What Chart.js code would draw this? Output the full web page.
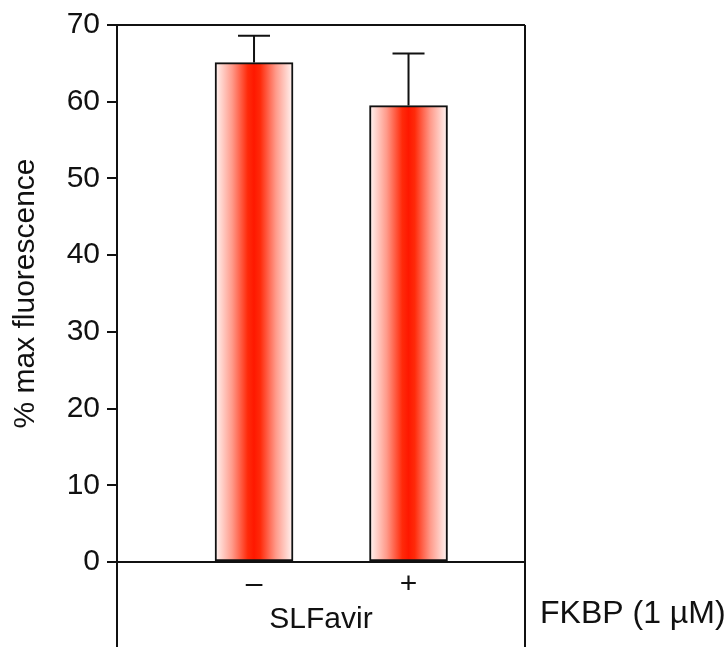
<!DOCTYPE html>
<html>
<head>
<meta charset="utf-8">
<script src="https://cdn.jsdelivr.net/npm/chart.js@4"></script>
<style>
  body { margin: 0; background: #fff; }
  #wrap { width: 727px; height: 647px; }
</style>
</head>
<body>
<div id="wrap"><canvas id="myChart"></canvas></div>
<script>
// FKBP (1 µM): without / with
const categories = ['–', '+'];
const fluorescence = [65.1, 59.5];
const errorUp = [3.5, 6.8];
const yTicks = [0, 10, 20, 30, 40, 50, 60, 70];

const FONT = "'Liberation Sans', Arial, sans-serif";

document.addEventListener('DOMContentLoaded', function () {

    // horizontal white -> red -> white fill for a bar
    function makeGradient(ctx, left, right) {
        const g = ctx.createLinearGradient(left, 0, right, 0);
        g.addColorStop(0, '#fff6f4');
        g.addColorStop(0.22, '#ff9a8a');
        g.addColorStop(0.42, '#ff2a0a');
        g.addColorStop(0.5, '#ff1800');
        g.addColorStop(0.58, '#ff2a0a');
        g.addColorStop(0.78, '#ff9a8a');
        g.addColorStop(1, '#fff6f4');
        return g;
    }

    const barFill = {
        id: 'barFill',
        beforeDatasetsDraw(chart) {
            const meta = chart.getDatasetMeta(0);
            meta.data.forEach(bar => {
                if (!isFinite(bar.x) || !isFinite(bar.width)) return;
                bar.options.backgroundColor = makeGradient(chart.ctx, bar.x - bar.width / 2, bar.x + bar.width / 2);
            });
        }
    };

    const errorBars = {
        id: 'errorBars',
        afterDatasetsDraw(chart) {
            const ctx = chart.ctx;
            const meta = chart.getDatasetMeta(0);
            const y = chart.scales.y;
            ctx.save();
            ctx.strokeStyle = '#111';
            ctx.lineWidth = 2;
            meta.data.forEach((bar, i) => {
                const top = y.getPixelForValue(fluorescence[i] + errorUp[i]);
                ctx.beginPath();
                ctx.moveTo(bar.x, bar.y);
                ctx.lineTo(bar.x, top);
                ctx.moveTo(bar.x - 16, top);
                ctx.lineTo(bar.x + 16, top);
                ctx.stroke();
            });
            ctx.restore();
        }
    };

    const frame = {
        id: 'frame',
        afterDraw(chart) {
            const ctx = chart.ctx;
            const a = chart.chartArea;
            const h = chart.height;
            ctx.save();
            ctx.strokeStyle = '#111';
            ctx.lineWidth = 2;
            ctx.beginPath();
            ctx.moveTo(a.left, a.top);
            ctx.lineTo(a.right, a.top);
            ctx.moveTo(a.right, a.top);
            ctx.lineTo(a.right, h);
            ctx.moveTo(a.left, a.bottom);
            ctx.lineTo(a.left, h);
            ctx.stroke();
            ctx.fillStyle = '#111';
            ctx.font = '32px ' + FONT;
            ctx.textAlign = 'left';
            ctx.textBaseline = 'alphabetic';
            ctx.fillText('FKBP (1 µM)', a.right + 15, 623);
            ctx.restore();
        }
    };

    const ctx = document.getElementById('myChart').getContext('2d');
    const myChart = new Chart(ctx, {
        type: 'bar',
        data: {
            datasets: [
                {
                    data: fluorescence.map((v, i) => ({ x: i + 1, y: v })),
                    backgroundColor: () => '#ff2000',
                    borderColor: '#111',
                    borderWidth: 2,
                    borderSkipped: false,
                    barThickness: 78,
                },
            ],
        },
        options: {
            responsive: true,
            maintainAspectRatio: false,
            animation: false,
            layout: { padding: { top: 25, right: 202, bottom: 0, left: 0 } },
            plugins: { legend: { display: false }, tooltip: { enabled: false } },
            scales: {
                x: {
                    type: 'linear',
                    offset: false,
                    min: 0.113,
                    max: 2.754,
                    afterBuildTicks: (scale) => {
                        scale.ticks = categories.map((c, i) => ({ value: i + 1 }));
                    },
                    afterFit: (scale) => { scale.height = 85; },
                    ticks: {
                        callback: (v) => categories[v - 1],
                        color: '#111',
                        font: { family: FONT, size: 30 },
                        padding: -3,
                        maxRotation: 0,
                    },
                    grid: { display: false, offset: false },
                    border: { display: true, color: '#111', width: 2 },
                    title: {
                        display: true,
                        text: 'SLFavir',
                        color: '#111',
                        font: { family: FONT, size: 30 },
                        padding: { top: 0, bottom: 9 },
                    },
                },
                y: {
                    min: 0,
                    max: 70,
                    afterBuildTicks: (scale) => {
                        scale.ticks = yTicks.map(v => ({ value: v }));
                    },
                    afterFit: (scale) => { scale.width = 117; },
                    ticks: {
                        color: '#111',
                        font: { family: FONT, size: 30 },
                        padding: 7,
                    },
                    grid: {
                        drawOnChartArea: false,
                        drawTicks: true,
                        tickLength: 10,
                        color: '#111',
                        lineWidth: 2,
                    },
                    border: { display: true, color: '#111', width: 2 },
                    title: {
                        display: true,
                        text: '% max fluorescence',
                        color: '#111',
                        font: { family: FONT, size: 30 },
                        padding: { top: 8, bottom: 0 },
                    },
                },
            },
        },
        plugins: [barFill, errorBars, frame],
    });
});
</script>
</body>
</html>
